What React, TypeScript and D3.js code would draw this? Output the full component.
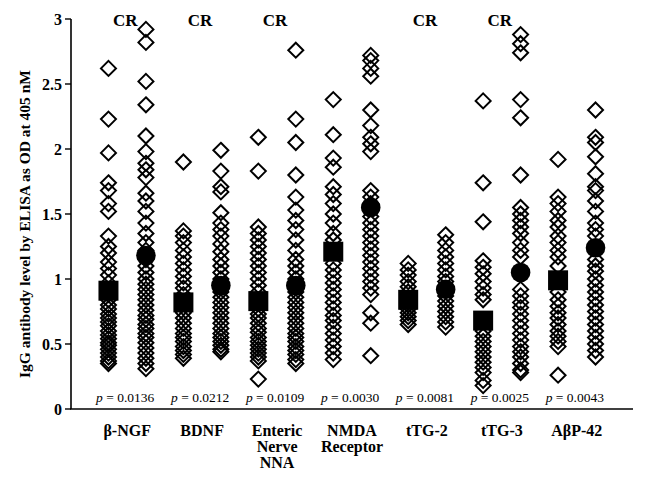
import React from "react";
import * as d3 from "d3";

const categories = [
  ["β-NGF"],
  ["BDNF"],
  ["Enteric", "Nerve", "NNA"],
  ["NMDA", "Receptor"],
  ["tTG-2"],
  ["tTG-3"],
  ["AβP-42"],
];
const crFlags = [true, true, true, false, true, true, false];
const pValues = ["0.0136", "0.0212", "0.0109", "0.0030", "0.0081", "0.0025", "0.0043"];

// left column (square mean) and right column (circle mean) per category
const ngfA = [2.62, 2.23, 1.97, 1.74, 1.68, 1.58, 1.52, 1.33, 1.25, 1.2, 1.13, 1.08, 1.03, 0.97, 0.88, 0.84, 0.8, 0.77, 0.73, 0.7, 0.67, 0.64, 0.6, 0.57, 0.54, 0.51, 0.49, 0.46, 0.43, 0.4, 0.37, 0.35];
const ngfB = [2.92, 2.82, 2.52, 2.34, 2.1, 1.98, 1.89, 1.84, 1.78, 1.66, 1.6, 1.52, 1.43, 1.35, 1.28, 1.22, 1.15, 1.1, 1.05, 1.0, 0.96, 0.92, 0.88, 0.84, 0.8, 0.76, 0.72, 0.69, 0.65, 0.62, 0.58, 0.55, 0.51, 0.47, 0.43, 0.39, 0.35, 0.31];
const bdnfA = [1.9, 1.37, 1.33, 1.28, 1.22, 1.17, 1.12, 1.07, 1.02, 0.97, 0.93, 0.88, 0.78, 0.74, 0.7, 0.66, 0.62, 0.58, 0.55, 0.52, 0.48, 0.45, 0.42, 0.39];
const bdnfB = [1.99, 1.83, 1.71, 1.67, 1.51, 1.43, 1.38, 1.33, 1.27, 1.21, 1.15, 1.1, 1.05, 1.0, 0.9, 0.86, 0.82, 0.78, 0.74, 0.7, 0.66, 0.62, 0.58, 0.55, 0.52, 0.49, 0.46, 0.44];
const entA = [2.09, 1.83, 1.4, 1.35, 1.3, 1.25, 1.2, 1.15, 1.1, 1.05, 1.0, 0.95, 0.9, 0.77, 0.73, 0.7, 0.66, 0.62, 0.59, 0.55, 0.52, 0.49, 0.46, 0.43, 0.4, 0.37, 0.23];
const entB = [2.76, 2.23, 2.05, 1.8, 1.63, 1.53, 1.45, 1.38, 1.3, 1.22, 1.15, 1.1, 1.05, 1.0, 0.9, 0.86, 0.82, 0.78, 0.74, 0.7, 0.66, 0.62, 0.58, 0.55, 0.52, 0.48, 0.45, 0.42, 0.38, 0.35];
const nmdaA = [2.38, 2.11, 1.93, 1.86, 1.71, 1.65, 1.58, 1.5, 1.43, 1.35, 1.3, 1.12, 1.07, 1.02, 0.97, 0.92, 0.87, 0.82, 0.77, 0.72, 0.68, 0.63, 0.58, 0.53, 0.48, 0.43, 0.38];
const nmdaB = [2.72, 2.68, 2.62, 2.56, 2.3, 2.18, 2.09, 2.04, 1.98, 1.68, 1.63, 1.58, 1.48, 1.43, 1.38, 1.33, 1.28, 1.23, 1.18, 1.13, 1.08, 1.03, 0.98, 0.93, 0.88, 0.74, 0.66, 0.41];
const ttg2A = [1.12, 1.07, 1.03, 0.98, 0.94, 0.9, 0.8, 0.77, 0.74, 0.71, 0.68, 0.65];
const ttg2B = [1.34, 1.28, 1.22, 1.17, 1.12, 1.07, 1.02, 0.98, 0.87, 0.83, 0.79, 0.75, 0.71, 0.67, 0.63];
const ttg3A = [2.37, 1.74, 1.44, 1.14, 1.09, 1.04, 0.98, 0.93, 0.88, 0.84, 0.6, 0.56, 0.52, 0.48, 0.44, 0.4, 0.36, 0.32, 0.28, 0.22, 0.18];
const ttg3B = [2.88, 2.81, 2.74, 2.38, 2.24, 1.8, 1.55, 1.5, 1.45, 1.4, 1.35, 1.28, 1.22, 1.17, 0.92, 0.87, 0.82, 0.78, 0.73, 0.68, 0.63, 0.58, 0.53, 0.48, 0.44, 0.4, 0.35, 0.3, 0.28];
const abpA = [1.92, 1.63, 1.58, 1.52, 1.45, 1.4, 1.33, 1.28, 1.22, 1.17, 1.1, 0.9, 0.84, 0.79, 0.74, 0.7, 0.65, 0.6, 0.56, 0.52, 0.48, 0.26];
const abpB = [2.3, 2.09, 2.05, 1.94, 1.81, 1.71, 1.68, 1.6, 1.52, 1.43, 1.38, 1.33, 1.15, 1.1, 1.06, 1.0, 0.95, 0.9, 0.85, 0.8, 0.75, 0.7, 0.65, 0.6, 0.55, 0.5, 0.45, 0.4];

const seriesA = [ngfA, bdnfA, entA, nmdaA, ttg2A, ttg3A, abpA];
const seriesB = [ngfB, bdnfB, entB, nmdaB, ttg2B, ttg3B, abpB];
const meansA = [0.91, 0.82, 0.83, 1.21, 0.84, 0.68, 0.99];
const meansB = [1.18, 0.95, 0.95, 1.55, 0.92, 1.05, 1.24];
const yTicks = [0, 0.5, 1, 1.5, 2, 2.5, 3];

const W = 647;
const H = 480;
const FONT = "'Liberation Serif', 'DejaVu Serif', serif";

export default function App() {
  const x = d3.scaleLinear().domain([0, 15]).range([71, 633]);
  const y = d3.scaleLinear().domain([0, 3]).range([409, 19]);
  const colX = (g: number, side: number) => x(g * 2 + 1 + side);
  const groupX = (g: number) => x(g * 2 + 1.5);
  const d = 7.5;
  const diamond = (cx: number, cy: number) =>
    `M${cx},${cy - d}L${cx + d},${cy}L${cx},${cy + d}L${cx - d},${cy}Z`;
  const sq = 10;

  return (
    <svg width={W} height={H} style={{ position: "absolute", left: 0, top: 0, background: "#fff" }} fontFamily={FONT}>
      <rect width={W} height={H} fill="#fff" />
      {/* diamonds */}
      {[seriesA, seriesB].map((ser, side) =>
        ser.map((vals, g) =>
          vals.map((v, i) => (
            <path key={`d${side}-${g}-${i}`} d={diamond(colX(g, side), y(v))} fill="none" stroke="#000" strokeWidth={2} strokeLinejoin="miter" />
          ))
        )
      )}
      {/* means */}
      {meansA.map((v, g) => (
        <rect key={`s${g}`} x={colX(g, 0) - sq} y={y(v) - sq} width={sq * 2} height={sq * 2} fill="#000" />
      ))}
      {meansB.map((v, g) => (
        <circle key={`c${g}`} cx={colX(g, 1)} cy={y(v)} r={9.8} fill="#000" />
      ))}
      {/* axes */}
      <line x1={71} x2={71} y1={y(3)} y2={y(0)} stroke="#000" strokeWidth={1.6} />
      <line x1={70} x2={633} y1={y(0)} y2={y(0)} stroke="#000" strokeWidth={1.6} />
      {yTicks.map((t) => (
        <g key={`t${t}`}>
          <line x1={65} x2={71} y1={y(t)} y2={y(t)} stroke="#000" strokeWidth={1.4} />
          <text x={62} y={y(t)} dy="0.35em" textAnchor="end" fontSize={16} fontWeight="bold">
            {t}
          </text>
        </g>
      ))}
      <text
        transform={`translate(25,${(y(0) + y(3)) / 2 + 10}) rotate(-90)`}
        textAnchor="middle"
        dy="0.35em"
        fontSize={15.5}
        fontWeight="bold"
      >
        IgG antibody level by ELISA as OD at 405 nM
      </text>
      {/* CR labels */}
      {crFlags.map((f, g) =>
        f ? (
          <text key={`cr${g}`} x={groupX(g) - 2} y={26} textAnchor="middle" fontSize={17} fontWeight="bold">
            CR
          </text>
        ) : null
      )}
      {/* p values */}
      {pValues.map((p, g) => (
        <text key={`p${g}`} x={groupX(g) - 2} y={402} textAnchor="middle" fontSize={13.5}>
          <tspan fontStyle="italic">p</tspan> = {p}
        </text>
      ))}
      {/* category labels */}
      {categories.map((lines, g) => (
        <text key={`cat${g}`} x={groupX(g)} y={436} textAnchor="middle" fontSize={16} fontWeight="bold">
          {lines.map((ln, i) => (
            <tspan key={i} x={groupX(g)} dy={i === 0 ? 0 : 16}>
              {ln}
            </tspan>
          ))}
        </text>
      ))}
    </svg>
  );
}
